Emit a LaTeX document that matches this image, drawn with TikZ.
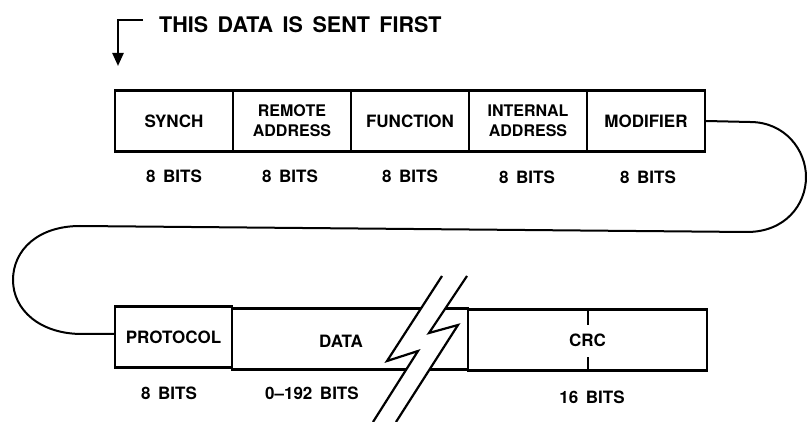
\documentclass[tikz,border=0pt]{standalone}
\usepackage{fontspec}
\setmainfont{TeX Gyre Heros}[WordSpace=1.6]
\usetikzlibrary{arrows.meta,calc}
\begin{document}
\begin{tikzpicture}[x=1pt,y=-1pt,
  field/.style={draw, line width=2.2pt, minimum height=61pt, inner sep=0pt,
    align=center, font=\bfseries\fontsize{17}{20}\selectfont},
  twoline/.style={font=\bfseries\fontsize{16}{20}\selectfont},
  topfield/.style={field, minimum width=118pt},
  bits/.style={font=\bfseries\fontsize{17}{18}\selectfont, inner sep=0pt},
  looppath/.style={line width=2pt},
  breakline/.style={line width=2.2pt, line join=miter},
  leadarrow/.style={line width=2.4pt, -{Triangle[width=11pt,length=13pt]}}]
\useasboundingbox (0,0) rectangle (807,422);

% title and lead arrow
\node[font=\bfseries\fontsize{21.5}{23}\selectfont, anchor=west, inner sep=0pt] (title) at (159,25) {THIS DATA IS SENT FIRST};
\coordinate (astart) at (143,20);
\coordinate (acorner) at (118,20);
\coordinate (aend) at (118,66);
\draw[leadarrow] (astart) -- (acorner) -- (aend);

% top row
\node[topfield] (synch) at (174,121) {SYNCH};
\node[topfield, twoline] (remote) at (292,121) {REMOTE\\ADDRESS};
\node[topfield] (func) at (410,121) {FUNCTION};
\node[topfield, twoline] (internal) at (528,121) {INTERNAL\\ADDRESS};
\node[topfield] (modif) at (646,121) {MODIFIER};

\node[bits] (b1) at (174,176) {8 BITS};
\node[bits] (b2) at (290,176) {8 BITS};
\node[bits] (b3) at (410,176) {8 BITS};
\node[bits] (b4) at (527,177) {8 BITS};
\node[bits] (b5) at (648,177) {8 BITS};

% bottom row
\node[field, minimum width=117pt] (proto) at (173.5,337) {PROTOCOL};
\node[field, minimum width=236pt] (data) at (350,339) {};
\node[field, minimum width=239pt] (crc) at (587.5,340) {CRC};
\node[font=\bfseries\fontsize{17}{18}\selectfont, inner sep=0pt] (datalbl) at (341,341) {DATA};
\draw[line width=2pt] (crc.north) -- ++(0,17);
\draw[line width=2pt] (crc.south) -- ++(0,-15);

\node[bits] (b6) at (169,393) {8 BITS};
\node[bits] (b7) at (312,393) {0–192 BITS};
\node[bits] (b8) at (592,397) {16 BITS};

% loop connector
\draw[looppath] (modif.east) -- (750,122)
  .. controls (785,122) and (806,150) .. (806,177)
  .. controls (806,205) and (785,232) .. (747,232)
  -- (80,226)
  .. controls (38,226) and (13,250) .. (13,280)
  .. controls (13,310) and (40,334) .. (82,334)
  -- (proto.west |- 0,334);

% break symbol
\fill[white] (442,276) -- (387,361) -- (418,351) -- (373,422) -- (396,422)
  -- (458,325) -- (429,333) -- (467,276) -- cycle;
\draw[breakline] (442,276) -- (387,361) -- (418,351) -- (373,422);
\draw[breakline] (467,276) -- (429,333) -- (458,325) -- (396,422);
\end{tikzpicture}
\end{document}
